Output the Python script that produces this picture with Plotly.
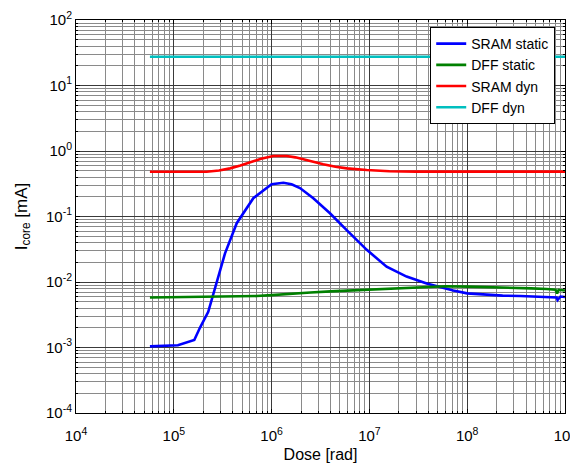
import plotly.graph_objects as go

# ---- data ----
sram_static_x = [5.7e4, 1.1e5, 1.62e5, 1.85e5, 2.25e5, 2.44e5, 2.75e5, 3.34e5, 4.4e5,
                 6.5e5, 1.0e6, 1.32e6, 1.6e6, 1.95e6, 2.67e6, 3.95e6, 5.86e6, 9.4e6,
                 1.5e7, 2.4e7, 3.85e7, 5.2e7, 7.2e7, 1.0e8, 1.5e8, 2.3e8, 3.5e8,
                 5.1e8, 7.0e8, 8.2e8, 8.4e8, 9.0e8, 1.0e9]
sram_static_y = [1.04e-3, 1.08e-3, 1.3e-3, 2.0e-3, 3.5e-3, 5.3e-3, 1.07e-2, 2.74e-2, 7.9e-2,
                 1.9e-1, 3.1e-1, 3.28e-1, 3.1e-1, 2.72e-1, 1.9e-1, 1.12e-1, 6.2e-2, 3.1e-2,
                 1.71e-2, 1.21e-2, 9.5e-3, 8.4e-3, 7.4e-3, 6.7e-3, 6.4e-3, 6.2e-3, 6.1e-3,
                 6.0e-3, 5.9e-3, 5.8e-3, 5.3e-3, 6.0e-3, 5.9e-3]

dff_static_x = [5.7e4, 2.2e5, 4.0e5, 7.0e5, 1.0e6, 1.5e6, 2.5e6, 4.0e6, 9.4e6, 2.0e7,
                3.85e7, 6.0e7, 1.0e8, 2.3e8, 4.5e8, 6.5e8, 8.0e8, 8.3e8, 8.6e8, 1.0e9]
dff_static_y = [5.8e-3, 5.9e-3, 6.0e-3, 6.1e-3, 6.3e-3, 6.5e-3, 6.9e-3, 7.2e-3, 7.6e-3, 8.1e-3,
                8.5e-3, 8.6e-3, 8.5e-3, 8.3e-3, 8.0e-3, 7.8e-3, 7.6e-3, 6.7e-3, 7.6e-3, 7.4e-3]

sram_dyn_x = [5.7e4, 2.17e5, 2.9e5, 3.76e5, 4.8e5, 6.0e5, 7.8e5, 1.04e6, 1.43e6, 1.75e6,
              2.1e6, 2.7e6, 3.37e6, 4.5e6, 5.9e6, 9.4e6, 1.6e7, 3.0e7, 1.0e8, 1.0e9]
sram_dyn_y = [0.483, 0.483, 0.505, 0.543, 0.60, 0.671, 0.76, 0.84, 0.84, 0.80,
              0.746, 0.68, 0.626, 0.575, 0.543, 0.513, 0.49, 0.485, 0.485, 0.485]

dff_dyn_x = [5.7e4, 1.0e6, 1.0e9]
dff_dyn_y = [27.5, 27.5, 27.5]

series_names = ["SRAM static", "DFF static", "SRAM dyn", "DFF dyn"]
series_colors = ["#0000ff", "#008000", "#ff0000", "#00bfbf"]

x_tickvals = [1e4, 1e5, 1e6, 1e7, 1e8, 1e9]
x_ticktext = ["10<sup>4</sup>", "10<sup>5</sup>", "10<sup>6</sup>", "10<sup>7</sup>",
              "10<sup>8</sup>", "10<sup>9</sup>"]
y_tickvals = [1e-4, 1e-3, 1e-2, 1e-1, 1e0, 1e1, 1e2]
y_ticktext = ["10<sup>-4</sup>", "10<sup>-3</sup>", "10<sup>-2</sup>", "10<sup>-1</sup>",
              "10<sup>0</sup>", "10<sup>1</sup>", "10<sup>2</sup>"]

fig = go.Figure()
for xs, ys, name, col in zip(
        [sram_static_x, dff_static_x, sram_dyn_x, dff_dyn_x],
        [sram_static_y, dff_static_y, sram_dyn_y, dff_dyn_y],
        series_names, series_colors):
    fig.add_trace(go.Scatter(x=xs, y=ys, mode="lines", name=name,
                             line=dict(color=col, width=2.6)))

font_family = "Liberation Sans, Arial, sans-serif"
axis_common = dict(
    type="log", showline=True, linecolor="black", linewidth=1, mirror="allticks",
    ticks="inside", ticklen=4, tickcolor="black", automargin=False,
    showgrid=True, gridcolor="#3a3a3a", gridwidth=1, zeroline=False,
    tickfont=dict(family=font_family, size=15, color="black"),
    ticklabeloverflow="allow",
    minor=dict(dtick="D1", showgrid=True, gridcolor="#8a8a8a", gridwidth=1,
               ticks="inside", ticklen=2, tickcolor="black"),
)

fig.update_layout(
    width=570, height=464,
    margin=dict(l=76, r=5, t=20, b=51, autoexpand=False),
    paper_bgcolor="white", plot_bgcolor="white",
    font=dict(family=font_family, color="black"),
    showlegend=True,
    legend=dict(x=0.980, y=0.982, xanchor="right", yanchor="top",
                bgcolor="white", bordercolor="black", borderwidth=1,
                font=dict(family=font_family, size=14, color="black"),
                tracegroupgap=0),
    xaxis=dict(axis_common, range=[4, 9], tickvals=x_tickvals, ticktext=x_ticktext,
               ticklabelstandoff=9,
               title=dict(text="Dose [rad]", font=dict(size=16), standoff=5)),
    yaxis=dict(axis_common, range=[-4, 2], tickvals=y_tickvals, ticktext=y_ticktext,
               title=dict(text="I<sub>core</sub> [mA]", font=dict(size=17), standoff=14)),
)

fig.write_html("out.html", config={"displayModeBar": False},
               post_script="document.body.style.margin='0';document.body.style.overflow='hidden';")
